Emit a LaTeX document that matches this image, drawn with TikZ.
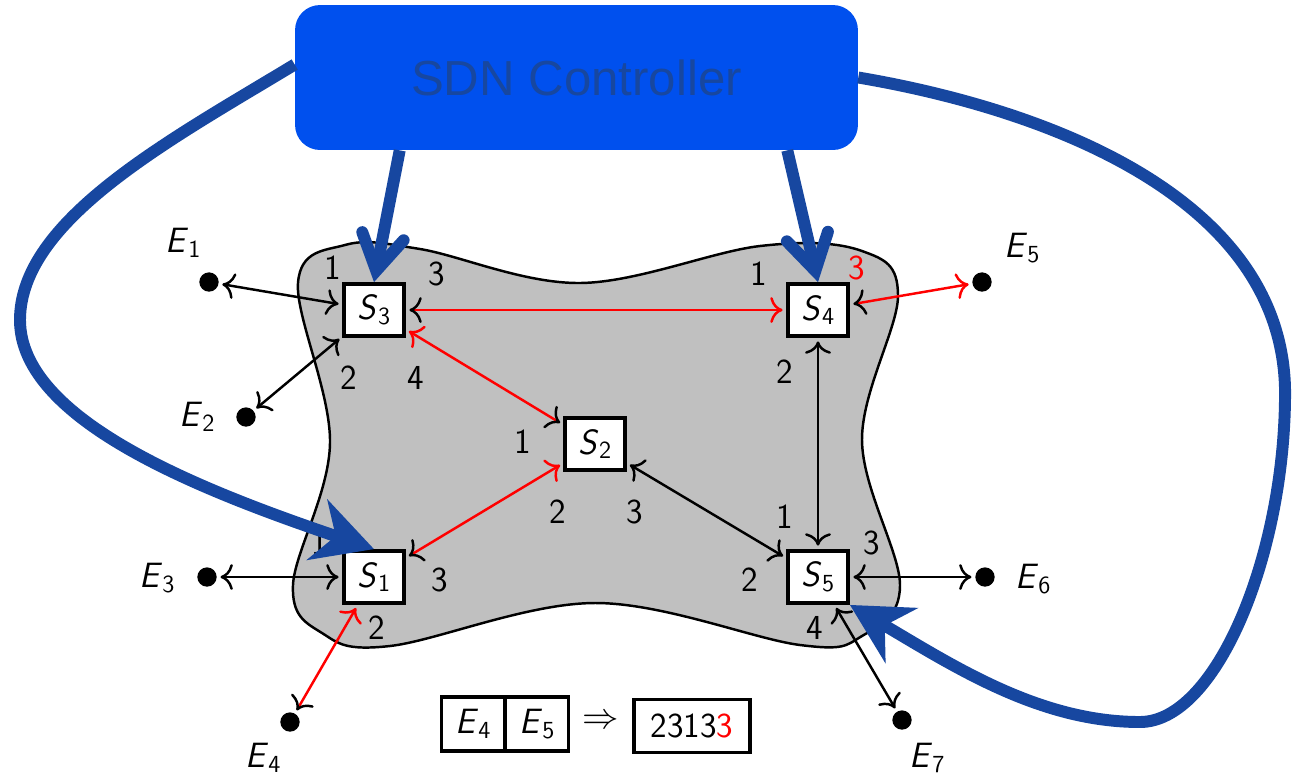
\documentclass[tikz,border=0pt]{standalone}
\usepackage{fontspec}
\newfontfamily\arialfont{Liberation Sans}
\usetikzlibrary{arrows.meta,calc}
\definecolor{ctrlfill}{RGB}{0,80,238}
\definecolor{ctrlblue}{RGB}{23,71,160}
\definecolor{cloud}{RGB}{192,192,192}
\newcommand{\nm}[2]{\textit{#1}\raisebox{-0.3ex}{\fontsize{14}{15}\selectfont #2}}
\tikzset{
  switch/.style={draw, line width=2.2pt, fill=white, minimum width=1.2cm, minimum height=1.04cm, inner sep=0pt},
  host/.style={circle, fill, minimum size=11pt, inner sep=0pt},
  link/.style={line width=1.4pt, shorten <=2pt, shorten >=2pt, arrows={To[scale=1.5]-To[scale=1.5]}},
  redlink/.style={link, red, arrows={To[scale=1.5,color=black]-To[scale=1.5]}},
  ctrlarrow/.style={ctrlblue, line width=6.8pt},
  cell/.style={draw, line width=2.2pt, minimum width=1.26cm, minimum height=1.08cm, inner sep=0pt},
}
\begin{document}
\begin{tikzpicture}[x=0.02cm, y=-0.02cm, font=\sffamily\fontsize{20}{23}\selectfont]
\useasboundingbox (0,0) rectangle (1292,779);
% network area
\draw[line width=1.4pt, fill=cloud] plot[smooth cycle, tension=0.6] coordinates {
  (298,283) (345,245) (420,249) (580,283) (760,246) (862,251) (898,296) (862,440)
  (900,585) (862,636) (800,645) (595,603) (390,646) (322,633) (293,585) (330,443)};
% switches and hosts
\node[switch] (s3) at (374,310){\nm{S}{3}};
\node[switch] (s4) at (818,310){\nm{S}{4}};
\node[switch] (s2) at (595,444){\nm{S}{2}};
\node[switch] (s1) at (374,577){\nm{S}{1}};
\node[switch] (s5) at (818,577){\nm{S}{5}};
\node[host] (e1) at (209,282){};
\node[host] (e2) at (246,417){};
\node[host] (e3) at (207,577){};
\node[host] (e4) at (290,722){};
\node[host] (e5) at (982,282){};
\node[host] (e6) at (985,577){};
\node[host] (e7) at (902,720){};
\node (le1) at (183,243){\nm{E}{1}};
\node (le2) at (197,417){\nm{E}{2}};
\node (le3) at (157,578){\nm{E}{3}};
\node (le4) at (263,758){\nm{E}{4}};
\node (le5) at (1022,248){\nm{E}{5}};
\node (le6) at (1033,579){\nm{E}{6}};
\node (le7) at (927,758){\nm{E}{7}};
% links
\draw[link] (e1) -- (s3);
\draw[link] (e2) -- (s3);
\draw[link] (e3) -- (s1);
\draw[link] (s2) -- (s5);
\draw[link] (s4) -- (s5);
\draw[link] (s5) -- (e6);
\draw[link] (s5) -- (e7);
\draw[redlink] (e4) -- (s1);
\draw[redlink] (s1) -- (s2);
\draw[redlink] (s2) -- (s3);
\draw[redlink] (s3) -- (s4);
\draw[redlink] (s4) -- (e5);
% port numbers
\node (p31) at (333,268){1};
\node (p33) at (437,274){3};
\node (p32) at (349,378){2};
\node (p34) at (416,378){4};
\node (p41) at (759,274){1};
\node[red] (p43) at (857,268){3};
\node (p42) at (785,372){2};
\node (p21) at (523,442){1};
\node (p22) at (558,512){2};
\node (p23) at (635,512){3};
\node (p11) at (320,543){1};
\node (p13) at (440,580){3};
\node (p12) at (377,628){2};
\node (p51) at (785,517){1};
\node (p53) at (872,543){3};
\node (p52) at (750,580){2};
\node (p54) at (815,628){4};
% flow table entry
\node[cell] (t4) at (473,724){\nm{E}{4}};
\node[cell] (t5) at (537,724){\nm{E}{5}};
\node (imp) at (601,722){$\Rightarrow$};
\node[draw, line width=2.2pt, minimum width=2.32cm, minimum height=1.06cm] (rule) at (692,726){2313\textcolor{red}{3}};
% controller
\node[fill=ctrlfill, rounded corners=0.5cm, minimum width=11.26cm, minimum height=2.9cm, text=ctrlblue, font=\arialfont\fontsize{28}{32}\selectfont] (ctrl) at (576.5,77.5){SDN Controller};
\draw[ctrlarrow, -{Stealth[length=34pt, width=36pt, inset=11pt]}] ($(ctrl.west)+(0,-13)$)
  .. controls (170,140) and (20,220) .. (20,320)
  .. controls (20,420) and (200,490) .. (s1.north);
\draw[ctrlarrow, -{Stealth[length=34pt, width=36pt, inset=11pt]}] (ctrl.east)
  .. controls (1050,110) and (1290,200) .. (1285,400)
  .. controls (1283,560) and (1215,722) .. (1140,722)
  .. controls (1040,722) and (955,667) .. (s5.south east);
\draw[ctrlarrow, -{Straight Barb[length=20pt, width=24pt, line cap=round]}] ($(ctrl.south west)+(105,0)$) -- (s3.north);
\draw[ctrlarrow, -{Straight Barb[length=20pt, width=24pt, line cap=round]}] ($(ctrl.south east)+(-71,0)$) -- (s4.north);
\end{tikzpicture}
\end{document}
